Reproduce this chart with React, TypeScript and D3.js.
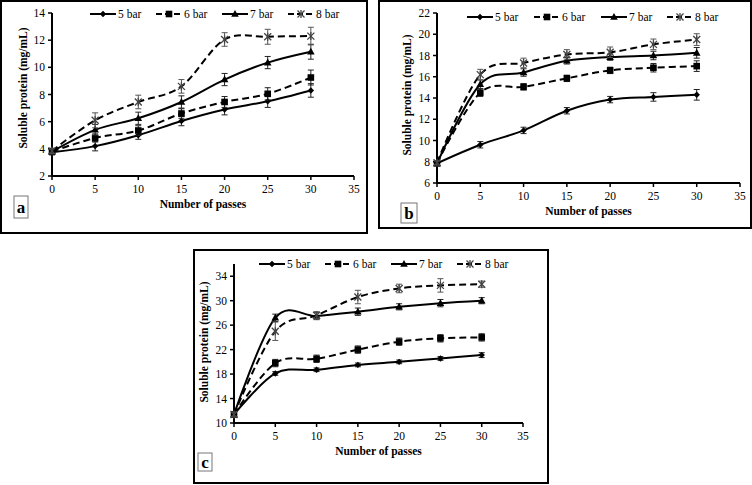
import React from "react";
import * as d3 from "d3";

const passes = [0, 5, 10, 15, 20, 25, 30];
const seriesNames = ["5 bar", "6 bar", "7 bar", "8 bar"];
const xTicks = [0, 5, 10, 15, 20, 25, 30, 35];

// Panel a
const a5bar = [3.75, 4.2, 5.0, 6.05, 6.9, 7.5, 8.3];
const a6bar = [3.8, 4.8, 5.35, 6.6, 7.45, 8.05, 9.25];
const a7bar = [3.8, 5.4, 6.25, 7.45, 9.1, 10.35, 11.15];
const a8bar = [3.85, 6.1, 7.45, 8.6, 12.05, 12.25, 12.3];
const a5err = [0.2, 0.35, 0.3, 0.35, 0.4, 0.45, 0.5];
const a6err = [0.15, 0.3, 0.35, 0.35, 0.4, 0.45, 0.55];
const a7err = [0.15, 0.4, 0.45, 0.45, 0.45, 0.45, 0.55];
const a8err = [0.2, 0.55, 0.5, 0.5, 0.5, 0.55, 0.65];
const aYTicks = [2, 4, 6, 8, 10, 12, 14];

// Panel b
const b5bar = [7.85, 9.6, 10.95, 12.8, 13.85, 14.1, 14.3];
const b6bar = [7.85, 14.5, 15.05, 15.85, 16.6, 16.85, 17.0];
const b7bar = [7.85, 15.3, 16.4, 17.5, 17.85, 18.0, 18.25];
const b8bar = [7.9, 16.2, 17.3, 18.1, 18.3, 19.05, 19.5];
const b5err = [0.2, 0.3, 0.3, 0.3, 0.3, 0.4, 0.5];
const b6err = [0.2, 0.35, 0.3, 0.3, 0.3, 0.4, 0.5];
const b7err = [0.2, 0.4, 0.35, 0.3, 0.3, 0.4, 0.5];
const b8err = [0.2, 0.5, 0.45, 0.45, 0.5, 0.5, 0.55];
const bYTicks = [6, 8, 10, 12, 14, 16, 18, 20, 22];

// Panel c
const c5bar = [11.4, 18.1, 18.7, 19.5, 20.0, 20.55, 21.1];
const c6bar = [11.4, 19.8, 20.5, 22.0, 23.3, 23.85, 24.0];
const c7bar = [11.4, 27.2, 27.5, 28.2, 29.0, 29.6, 30.0];
const c8bar = [11.4, 25.0, 27.6, 30.6, 32.0, 32.5, 32.7];
const c5err = [0.4, 0.3, 0.3, 0.3, 0.3, 0.3, 0.4];
const c6err = [0.4, 0.6, 0.6, 0.6, 0.6, 0.6, 0.6];
const c7err = [0.4, 0.6, 0.6, 0.6, 0.5, 0.6, 0.5];
const c8err = [0.4, 1.5, 0.6, 1.1, 0.7, 1.1, 0.5];
const cYTicks = [10, 14, 18, 22, 26, 30, 34];

const FONT = "'Liberation Serif', 'Times New Roman', serif";

type Layout = {
  frame: { x: number; y: number; w: number; h: number };
  x0: number; x1: number; yBottom: number; yTop: number;
  yDomain: [number, number];
  yTicks: number[];
  legendY: number;
  legendTextX: number[];
  yTitleX: number; yTitleY: number;
  xTitleY: number;
  letter: string;
  letterBox: { x: number; y: number; w: number; h: number };
  values: number[][];
  errors: number[][];
};

const dashes = [null, "7,4", null, "7,4"];

function Marker({ kind, x, y }: { kind: number; x: number; y: number }) {
  if (kind === 0) {
    return <path d={`M${x},${y - 3.2}L${x + 3.2},${y}L${x},${y + 3.2}L${x - 3.2},${y}Z`} fill="#000" />;
  }
  if (kind === 1) {
    return <rect x={x - 3.3} y={y - 3.3} width={6.6} height={6.6} fill="#000" />;
  }
  if (kind === 2) {
    return <path d={`M${x},${y - 4}L${x + 3.8},${y + 2.8}L${x - 3.8},${y + 2.8}Z`} fill="#000" />;
  }
  return (
    <g stroke="#444" strokeWidth={1.3}>
      <line x1={x - 3.5} y1={y - 3.5} x2={x + 3.5} y2={y + 3.5} />
      <line x1={x - 3.5} y1={y + 3.5} x2={x + 3.5} y2={y - 3.5} />
      <line x1={x} y1={y - 4} x2={x} y2={y + 4} />
    </g>
  );
}

function Panel({ L }: { L: Layout }) {
  const x = d3.scaleLinear().domain([0, 35]).range([L.x0, L.x1]);
  const y = d3.scaleLinear().domain(L.yDomain).range([L.yBottom, L.yTop]);
  const line = d3
    .line<number>()
    .x((_, i) => x(passes[i]))
    .y((d) => y(d))
    .curve(d3.curveCardinal.tension(0));
  return (
    <g fontFamily={FONT}>
      <rect x={L.frame.x} y={L.frame.y} width={L.frame.w} height={L.frame.h} fill="#fff" stroke="#000" strokeWidth={2} />
      {/* axes */}
      <line x1={L.x0} y1={L.yBottom} x2={L.x0} y2={L.yTop} stroke="#000" strokeWidth={2} />
      <line x1={L.x0 - 1} y1={L.yBottom} x2={L.x1} y2={L.yBottom} stroke="#000" strokeWidth={2} />
      {L.yTicks.map((t) => (
        <g key={"y" + t}>
          <line x1={L.x0 - 4} x2={L.x0} y1={y(t)} y2={y(t)} stroke="#000" strokeWidth={1.5} />
          <text x={L.x0 - 7} y={y(t)} dy="0.35em" textAnchor="end" fontSize={11.5}>{t}</text>
        </g>
      ))}
      {xTicks.map((t) => (
        <g key={"x" + t}>
          <line x1={x(t)} x2={x(t)} y1={L.yBottom} y2={L.yBottom + 4} stroke="#000" strokeWidth={1.5} />
          <text x={x(t)} y={L.yBottom + 17} textAnchor="middle" fontSize={11.5}>{t}</text>
        </g>
      ))}
      <text x={(L.x0 + L.x1) / 2} y={L.xTitleY} textAnchor="middle" fontSize={11.5} fontWeight="bold">Number of passes</text>
      <text transform={`translate(${L.yTitleX},${L.yTitleY}) rotate(-90)`} textAnchor="middle" fontSize={11.5} fontWeight="bold">Soluble protein (mg/mL)</text>
      {/* series */}
      {L.values.map((vals, si) => (
        <g key={"s" + si}>
          <path d={line(vals) || ""} fill="none" stroke="#000" strokeWidth={2} strokeDasharray={dashes[si] || undefined} />
          {vals.map((v, i) => {
            const e = L.errors[si][i];
            const px = x(passes[i]);
            return (
              <g key={i} stroke={si === 3 ? "#555" : "#222"} strokeWidth={1}>
                <line x1={px} x2={px} y1={y(v - e)} y2={y(v + e)} />
                <line x1={px - 3} x2={px + 3} y1={y(v - e)} y2={y(v - e)} />
                <line x1={px - 3} x2={px + 3} y1={y(v + e)} y2={y(v + e)} />
              </g>
            );
          })}
          {vals.map((v, i) => (
            <Marker key={"m" + i} kind={si} x={x(passes[i])} y={y(v)} />
          ))}
        </g>
      ))}
      {/* legend */}
      {seriesNames.map((n, si) => {
        const tx = L.legendTextX[si];
        const sx0 = tx - 27;
        const sx1 = tx - 1;
        return (
          <g key={"l" + si}>
            <line x1={sx0} x2={sx1} y1={L.legendY} y2={L.legendY} stroke="#000" strokeWidth={2} strokeDasharray={dashes[si] ? "6,3" : undefined} />
            <Marker kind={si} x={(sx0 + sx1) / 2} y={L.legendY} />
            <text x={tx + 1} y={L.legendY} dy="0.35em" fontSize={11.5}>{n}</text>
          </g>
        );
      })}
      <rect x={L.letterBox.x} y={L.letterBox.y} width={L.letterBox.w} height={L.letterBox.h} fill="#fff" stroke="#777" strokeWidth={1} />
      <text x={L.letterBox.x + L.letterBox.w / 2} y={L.letterBox.y + L.letterBox.h / 2} dy="0.35em" textAnchor="middle" fontSize={17} fontWeight="bold">{L.letter}</text>
    </g>
  );
}

const layoutA: Layout = {
  frame: { x: 1, y: 1, w: 366, h: 232 },
  x0: 52, x1: 354, yBottom: 176, yTop: 13,
  yDomain: [2, 14], yTicks: aYTicks,
  legendY: 14, legendTextX: [117, 183, 249, 315],
  yTitleX: 27, yTitleY: 88, xTitleY: 208,
  letter: "a", letterBox: { x: 14, y: 196, w: 14, h: 22 },
  values: [a5bar, a6bar, a7bar, a8bar],
  errors: [a5err, a6err, a7err, a8err],
};

const layoutB: Layout = {
  frame: { x: 379, y: 1, w: 372, h: 227 },
  x0: 437, x1: 740, yBottom: 183, yTop: 13,
  yDomain: [6, 22], yTicks: bYTicks,
  legendY: 17, legendTextX: [494, 561, 628, 694],
  yTitleX: 411, yTitleY: 95, xTitleY: 215,
  letter: "b", letterBox: { x: 401, y: 203, w: 16, h: 20 },
  values: [b5bar, b6bar, b7bar, b8bar],
  errors: [b5err, b6err, b7err, b8err],
};

const layoutC: Layout = {
  frame: { x: 194, y: 250, w: 354, h: 233 },
  x0: 234, x1: 523, yBottom: 423, yTop: 264,
  yDomain: [10, 36], yTicks: cYTicks,
  legendY: 264, legendTextX: [286, 352, 418, 484],
  yTitleX: 208, yTitleY: 342, xTitleY: 455,
  letter: "c", letterBox: { x: 198, y: 453, w: 14, h: 18 },
  values: [c5bar, c6bar, c7bar, c8bar],
  errors: [c5err, c6err, c7err, c8err],
};

export default function App() {
  return (
    <svg width={752} height={485} style={{ position: "absolute", left: 0, top: 0, background: "#fff" }}>
      <rect width={752} height={485} fill="#fff" />
      <Panel L={layoutA} />
      <Panel L={layoutB} />
      <Panel L={layoutC} />
    </svg>
  );
}
